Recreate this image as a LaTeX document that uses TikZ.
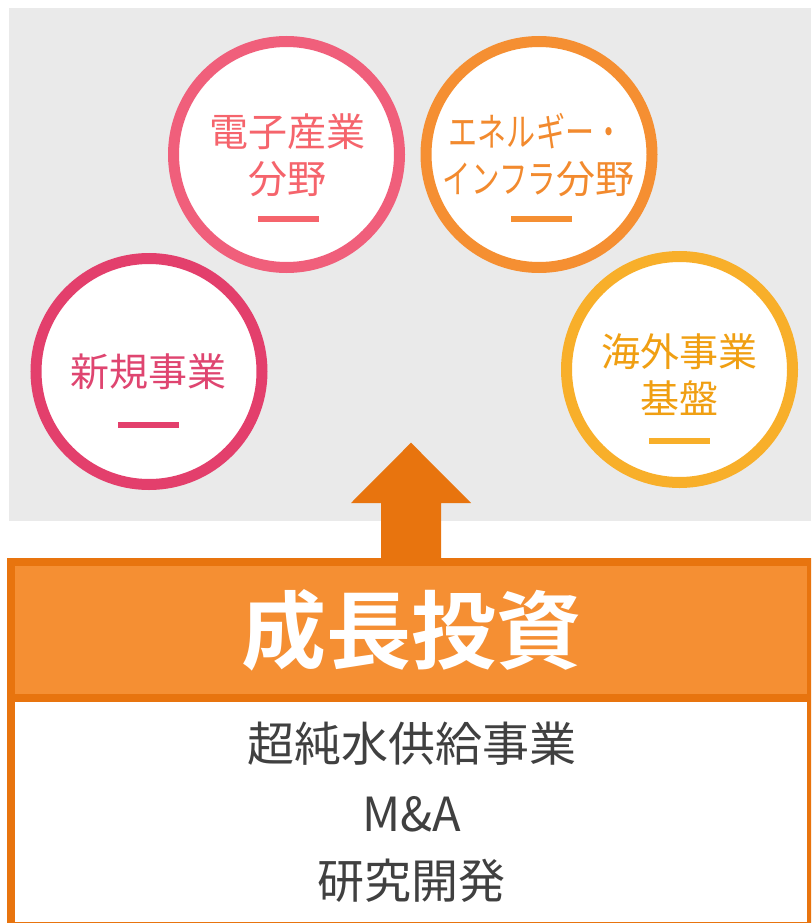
\documentclass[tikz,border=0pt]{standalone}
\usepackage{fontspec}
\usepackage{graphicx}
\newfontfamily\jp{Noto Sans CJK JP}[BoldFont={Noto Sans CJK JP Bold}]
\definecolor{bggray}{HTML}{EAEAEA}
\definecolor{cA}{HTML}{E33F6C}
\definecolor{cAt}{HTML}{DF4570}
\definecolor{cB}{HTML}{F05F7B}
\definecolor{cBt}{HTML}{F5646C}
\definecolor{cC}{HTML}{F58F32}
\definecolor{cCt}{HTML}{F28A2E}
\definecolor{cD}{HTML}{F8AF2A}
\definecolor{cDt}{HTML}{F09F12}
\definecolor{darkor}{HTML}{E8740E}
\definecolor{lightor}{HTML}{F58F33}
\definecolor{txtgray}{HTML}{404040}
\tikzset{
  ring/.style={circle, draw=#1, line width=11pt, fill=white, minimum size=226pt, inner sep=0pt},
  ctext/.style={font=\jp\fontsize{39pt}{47pt}\selectfont, text=#1, anchor=base, inner sep=0pt},
  bar/.style={fill=#1, minimum width=61pt, minimum height=6pt, inner sep=0pt},
  btext/.style={font=\jp\fontsize{47pt}{56pt}\selectfont, text=txtgray, anchor=base, inner sep=0pt},
}
\begin{document}
\begin{tikzpicture}[x=1pt,y=-1pt]
\useasboundingbox (0,0) rectangle (811,923);
\clip (0,0) rectangle (811,923);
% background
\fill[bggray] (9,8) rectangle (811,521);
% circles
\node[ring=cA] (nA) at (149,371.5) {};
\node[ring=cB] (nB) at (286.5,154.5) {};
\node[ring=cC] (nC) at (539,154.5) {};
\node[ring=cD] (nD) at (679.5,369.5) {};
% texts
\node[ctext=cAt] (tA) at (148.5,386.5) {新規事業};
\node[bar=cA] (bA) at (148.5,424.7) {};
\node[ctext=cBt] (tB1) at (287,146.5) {電子産業};
\node[ctext=cBt] (tB2) at (287,193.8) {分野};
\node[bar=cBt] (bB) at (288.5,219) {};
\node[ctext=cCt] (tC1) at (536,146.5) {\scalebox{0.745}[1]{エネルギー・}};
\node[ctext=cCt] (tC2) at (538.5,193.8) {\scalebox{0.73}[1]{インフラ}分野};
\node[bar=cC] (bC) at (541.5,219) {};
\node[ctext=cDt] (tD1) at (679,366.8) {海外事業};
\node[ctext=cDt] (tD2) at (679,413.8) {基盤};
\node[bar=cD] (bD) at (679.5,441) {};
% bottom box
\fill[lightor] (11,562) rectangle (811,698);
\fill[white] (11,698) rectangle (811,926);
\draw[darkor, line width=8pt] (11,562) rectangle (811,926);
\draw[darkor, line width=8pt] (11,698) -- (811,698);
\coordinate (boxtop) at (411,562);
% arrow
\fill[darkor] (boxtop) ++(-30,0) -- ++(0,-59) -- ++(-30,0) -- (411,442.7) -- (471,503) -- (441,503) -- (441,562) -- cycle;
% title
\node[font=\jp\bfseries\fontsize{85pt}{100pt}\selectfont, text=white, anchor=base, inner sep=0pt] (title) at (411,662) {成長投資};
\node[btext] (l1) at (411.5,761) {超純水供給事業};
\node[btext] (l2) at (412,831.5) {M\&A};
\node[btext] (l3) at (411.5,898.5) {研究開発};
\end{tikzpicture}
\end{document}
